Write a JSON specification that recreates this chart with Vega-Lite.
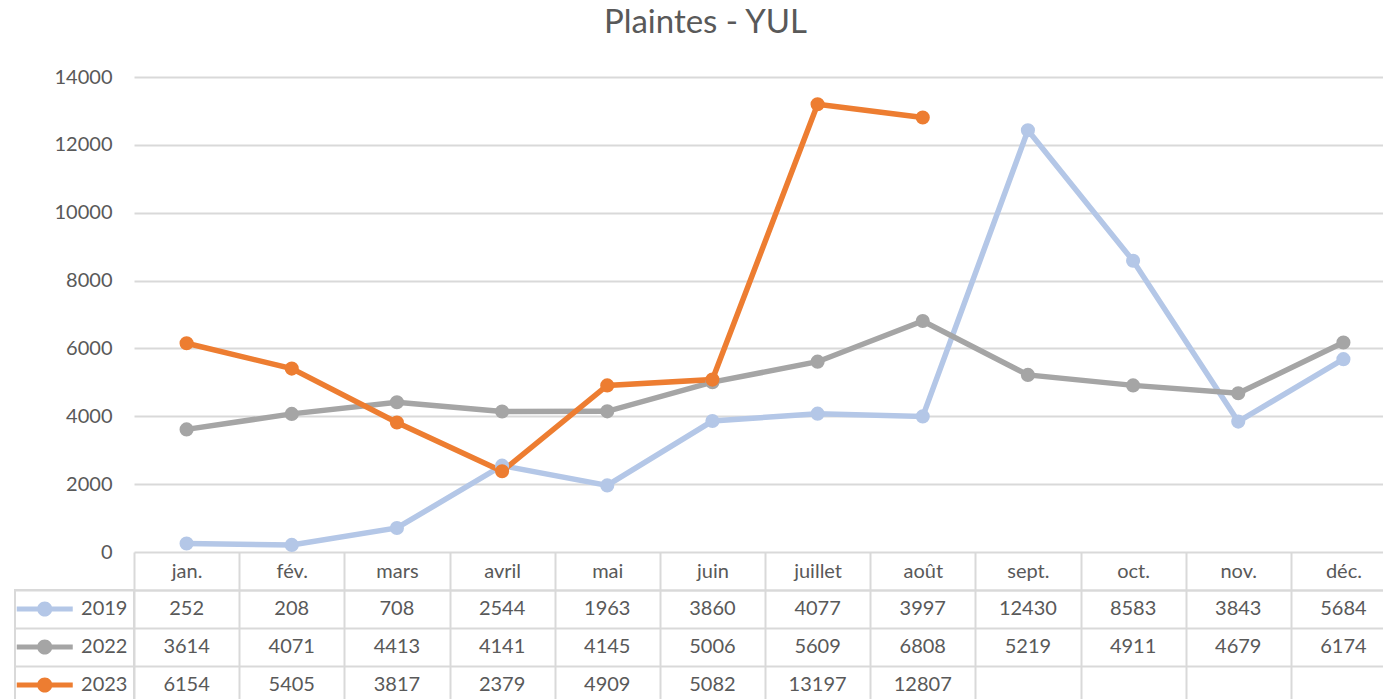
{
  "$schema": "https://vega.github.io/schema/vega-lite/v6.json",
  "padding": {"left": 14, "top": 7, "right": 0, "bottom": 0},
  "background": "white",
  "config": {
    "font": "Lato",
    "view": {"stroke": null},
    "concat": {"spacing": 0}
  },
  "title": {"text": "Plaintes - YUL", "fontSize": 33, "fontWeight": "normal", "color": "#595959", "anchor": "middle", "offset": 27},
  "datasets": {
    "plaintes": [
      {"mois": "jan.", "serie": "2019", "valeur": 252},
      {"mois": "fév.", "serie": "2019", "valeur": 208},
      {"mois": "mars", "serie": "2019", "valeur": 708},
      {"mois": "avril", "serie": "2019", "valeur": 2544},
      {"mois": "mai", "serie": "2019", "valeur": 1963},
      {"mois": "juin", "serie": "2019", "valeur": 3860},
      {"mois": "juillet", "serie": "2019", "valeur": 4077},
      {"mois": "août", "serie": "2019", "valeur": 3997},
      {"mois": "sept.", "serie": "2019", "valeur": 12430},
      {"mois": "oct.", "serie": "2019", "valeur": 8583},
      {"mois": "nov.", "serie": "2019", "valeur": 3843},
      {"mois": "déc.", "serie": "2019", "valeur": 5684},
      {"mois": "jan.", "serie": "2022", "valeur": 3614},
      {"mois": "fév.", "serie": "2022", "valeur": 4071},
      {"mois": "mars", "serie": "2022", "valeur": 4413},
      {"mois": "avril", "serie": "2022", "valeur": 4141},
      {"mois": "mai", "serie": "2022", "valeur": 4145},
      {"mois": "juin", "serie": "2022", "valeur": 5006},
      {"mois": "juillet", "serie": "2022", "valeur": 5609},
      {"mois": "août", "serie": "2022", "valeur": 6808},
      {"mois": "sept.", "serie": "2022", "valeur": 5219},
      {"mois": "oct.", "serie": "2022", "valeur": 4911},
      {"mois": "nov.", "serie": "2022", "valeur": 4679},
      {"mois": "déc.", "serie": "2022", "valeur": 6174},
      {"mois": "jan.", "serie": "2023", "valeur": 6154},
      {"mois": "fév.", "serie": "2023", "valeur": 5405},
      {"mois": "mars", "serie": "2023", "valeur": 3817},
      {"mois": "avril", "serie": "2023", "valeur": 2379},
      {"mois": "mai", "serie": "2023", "valeur": 4909},
      {"mois": "juin", "serie": "2023", "valeur": 5082},
      {"mois": "juillet", "serie": "2023", "valeur": 13197},
      {"mois": "août", "serie": "2023", "valeur": 12807}
    ],
    "series": [
      {"serie": "2019"},
      {"serie": "2022"},
      {"serie": "2023"}
    ]
  },
  "columns": 2,
  "bounds": "flush",
  "spacing": {"row": 38, "column": 0},
  "concat": [
    {
      "width": 119,
      "height": 475,
      "data": {"values": []},
      "mark": "point",
      "encoding": {}
    },
    {
      "width": 1262,
      "height": 475,
      "data": {"name": "plaintes"},
      "encoding": {
        "x": {
          "field": "mois", "type": "nominal",
          "scale": {"type": "point", "padding": 0.5, "domain": ["jan.", "fév.", "mars", "avril", "mai", "juin", "juillet", "août", "sept.", "oct.", "nov.", "déc."]},
          "axis": null
        },
        "y": {
          "field": "valeur", "type": "quantitative",
          "scale": {"domain": [0, 14000], "nice": false},
          "axis": {
            "title": null, "values": [0, 2000, 4000, 6000, 8000, 10000, 12000, 14000],
            "format": "d", "labelFontSize": 20, "labelColor": "#595959", "labelPadding": 22,
            "domain": false, "ticks": false, "grid": true, "gridColor": "#d9d9d9", "gridWidth": 2
          }
        },
        "color": {
          "field": "serie", "type": "nominal",
          "scale": {"domain": ["2019", "2022", "2023"], "range": ["#b4c7e7", "#a5a5a5", "#ed7d31"]},
          "legend": null
        }
      },
      "layer": [
        {"mark": {"type": "line", "strokeWidth": 5.5}},
        {"mark": {"type": "point", "filled": true, "size": 200, "opacity": 1}}
      ]
    },
    {
      "width": 119,
      "height": 114,
      "data": {"name": "series"},
      "view": {"stroke": "#d9d9d9", "strokeWidth": 2},
      "encoding": {
        "y": {
          "field": "serie", "type": "nominal",
          "scale": {"type": "band", "paddingInner": 0, "paddingOuter": 0, "domain": ["2019", "2022", "2023"]},
          "axis": {"title": null, "labels": false, "ticks": false, "domain": false, "grid": true, "gridColor": "#d9d9d9", "gridWidth": 2, "tickBand": "extent"}
        },
        "color": {
          "field": "serie", "type": "nominal",
          "scale": {"domain": ["2019", "2022", "2023"], "range": ["#b4c7e7", "#a5a5a5", "#ed7d31"]},
          "legend": null
        }
      },
      "layer": [
        {
          "mark": {
            "type": "point", "filled": true, "opacity": 1, "size": 3136,
            "shape": "M-1,-0.09H1V0.09H-1Z M-0.27,0A0.27,0.27 0 1,1 0.27,0A0.27,0.27 0 1,1 -0.27,0Z"
          },
          "encoding": {
            "x": {"datum": "symbole", "type": "nominal", "scale": {"type": "band", "paddingInner": 0, "paddingOuter": 0, "domain": ["symbole", "libellé"]}, "axis": null}
          }
        },
        {
          "mark": {"type": "text", "fontSize": 20, "color": "#595959"},
          "encoding": {
            "x": {"datum": "libellé", "type": "nominal"},
            "text": {"field": "serie"},
            "color": {"value": "#595959"}
          }
        }
      ]
    },
    {
      "width": 1262,
      "height": 114,
      "data": {"name": "plaintes"},
      "mark": {"type": "text", "fontSize": 20, "color": "#595959"},
      "encoding": {
        "x": {
          "field": "mois", "type": "nominal",
          "scale": {"type": "band", "paddingInner": 0, "paddingOuter": 0, "domain": ["jan.", "fév.", "mars", "avril", "mai", "juin", "juillet", "août", "sept.", "oct.", "nov.", "déc."]},
          "axis": {
            "orient": "top", "title": null, "labelAngle": 0, "labelFontSize": 20, "labelColor": "#595959",
            "tickBand": "extent", "tickSize": 38, "tickColor": "#d9d9d9", "tickWidth": 2,
            "domainColor": "#d9d9d9", "domainWidth": 2,
            "grid": true, "gridColor": "#d9d9d9", "gridWidth": 2,
            "labelPadding": -19, "labelBaseline": "middle"
          }
        },
        "y": {
          "field": "serie", "type": "nominal",
          "scale": {"type": "band", "paddingInner": 0, "paddingOuter": 0, "domain": ["2019", "2022", "2023"]},
          "axis": {"title": null, "labels": false, "ticks": false, "domain": false, "grid": true, "gridColor": "#d9d9d9", "gridWidth": 2, "tickBand": "extent"}
        },
        "text": {"field": "valeur", "type": "quantitative", "format": "d"}
      }
    }
  ]
}
